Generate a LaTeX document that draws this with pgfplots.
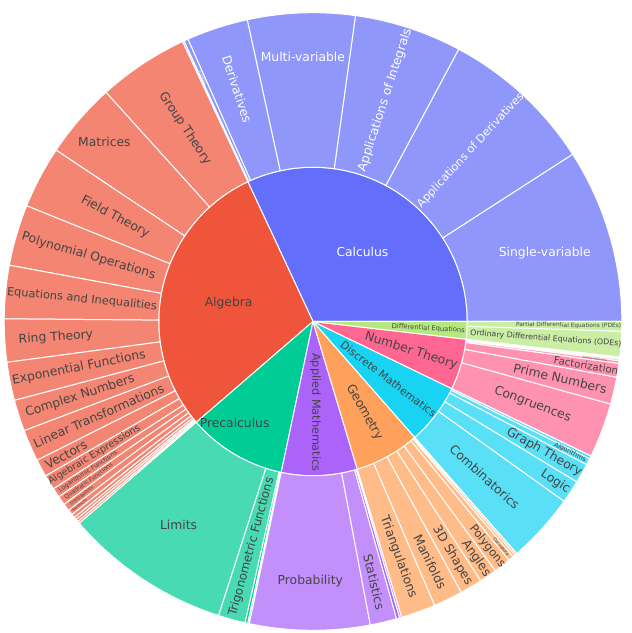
\documentclass[border=0pt]{standalone}
\usepackage{pgfplots}
\pgfplotsset{compat=1.18}
\usepackage{pgfplotstable}
\usepackage{fontspec}
\setmainfont{DejaVu Sans}

\definecolor{cCal}{HTML}{636EFA}
\definecolor{cAlg}{HTML}{EF553B}
\definecolor{cPre}{HTML}{00CC96}
\definecolor{cApp}{HTML}{AB63FA}
\definecolor{cGeo}{HTML}{FFA15A}
\definecolor{cDis}{HTML}{19D3F3}
\definecolor{cNum}{HTML}{FF6692}
\definecolor{cDif}{HTML}{B6E880}
\colorlet{lCal}{cCal!72!white}
\colorlet{lAlg}{cAlg!72!white}
\colorlet{lPre}{cPre!72!white}
\colorlet{lApp}{cApp!72!white}
\colorlet{lGeo}{cGeo!72!white}
\colorlet{lDis}{cDis!72!white}
\colorlet{lNum}{cNum!72!white}
\colorlet{lDif}{cDif!72!white}
\definecolor{txt}{HTML}{444444}

% inner ring: name, angular share (degrees), fill, text colour, font size, label angle, label radius, rotation
\pgfplotstableread[col sep=comma]{
nm,val,fc,tc,fs,la,lr,rot
Calculus,115,cCal,white,12.4,54.7,85.7,0
Algebra,105.8,cAlg,txt,12.4,168,86.4,0
Precalculus,37.3,cPre,txt,12.4,232.4,128.7,0
Applied Mathematics,28.6,cApp,txt,11.3,271.6,91,-90
Geometry,24.6,cGeo,txt,12.4,299.5,104.5,999
Discrete Mathematics,22.9,cDis,txt,10.8,322.7,95.3,999
Number Theory,19.2,cNum,txt,12.4,343.2,102.6,-17.5
Differential Equations,6.6,cDif,txt,6.8,356.5,115.7,999
}\innerring

% outer ring: name, angular share (degrees), fill, text colour, font size, label radius (0=auto), rotation (999=radial)
\pgfplotstableread[col sep=comma]{
nm,val,fc,tc,fs,lr,rot
Single-variable,32.8,lCal,white,12.4,242,0
Applications of Derivatives,29.05,lCal,white,11.4,233,999
Applications of Integrals,20.25,lCal,white,12.4,233,999
Multi-variable,20.2,lCal,white,12.4,265,0
Derivatives,11.6,lCal,white,12.4,245,999
Integrals,0.8,lCal,white,3.5,268,999
x,0.3,lCal,white,0,0,999
Group Theory,17.1,lAlg,txt,12.4,232,999
Matrices,14.2,lAlg,txt,12.4,276,0
Field Theory,11.7,lAlg,txt,12.4,224,999
Polynomial Operations,11.5,lAlg,txt,12.4,234,999
Equations and Inequalities,10.0,lAlg,txt,11.4,232.5,999
Ring Theory,8.1,lAlg,txt,12.4,258,999
Exponential Functions,7.2,lAlg,txt,12.4,239,999
Complex Numbers,5.9,lAlg,txt,12.4,245,999
Linear Transformations,6.0,lAlg,txt,12.4,234.5,999
Vectors,3.3,lAlg,txt,12.4,281,999
Algebraic Expressions,2.8,lAlg,txt,9.7,256.6,999
Logarithmic Functions,1.8,lAlg,txt,6.3,271,999
Quadratic Functions,1.7,lAlg,txt,5.8,276,999
Inequalities,1.4,lAlg,txt,4.8,290,999
Sequences,1.0,lAlg,txt,3.4,298,999
x,0.7,lAlg,txt,0,0,999
x,0.5,lAlg,txt,0,0,999
x,0.5,lAlg,txt,0,0,999
x,0.4,lAlg,txt,0,0,999
Limits,31.4,lPre,txt,12.4,244,0
Trigonometric Functions,5.1,lPre,txt,12,234,999
x,0.5,cPre,txt,0,0,999
x,0.3,lPre,txt,0,0,999
Probability,22.6,lApp,txt,12.4,260,0
Statistics,5.0,lApp,txt,12.4,268,999
x,0.6,cApp,txt,0,0,999
x,0.4,lApp,txt,0,0,999
Triangulations,6.5,lGeo,txt,12.4,251,999
Manifolds,5.5,lGeo,txt,12.4,268,999
3D Shapes,4.2,lGeo,txt,12.4,273,999
Angles,3.3,lGeo,txt,12.4,288,999
Polygons,3.2,lGeo,txt,11.5,285,999
Curvature,1.0,lGeo,txt,4.5,294,999
x,0.5,lGeo,txt,0,0,999
x,0.4,lGeo,txt,0,0,999
Combinatorics,13.1,lDis,txt,12.4,232,999
Logic,4.3,lDis,txt,12.4,291,999
Graph Theory,3.7,lDis,txt,12.4,266,999
Algorithms,1.2,lDis,txt,6.5,289,999
x,0.6,lDis,txt,0,0,999
Congruences,10.3,lNum,txt,12.4,235,999
Prime Numbers,5.1,lNum,txt,12.4,254,999
Factorization,2.6,lNum,txt,10.2,277,999
Modular Arithmetic,0.5,lNum,txt,2.6,285,999
x,0.3,lNum,txt,0,0,999
x,0.2,lNum,txt,0,0,999
x,0.2,lNum,txt,0,0,999
Ordinary Differential Equations (ODEs),4.8,lDif,txt,7.9,233.8,999
Partial Differential Equations (PDEs),1.8,lDif,txt,5.9,256,999
}\outerring

\def\rIn{154.5}
\def\rOut{309.3}

\newcommand\ringwedge[5]{% a1,a2,r1,r2,colour
  \pgfmathsetmacro\sbxa{#3*cos(#1)}%
  \pgfmathsetmacro\sbya{#3*sin(#1)}%
  \pgfmathsetmacro\sbxb{#4*cos(#2)}%
  \pgfmathsetmacro\sbyb{#4*sin(#2)}%
  \edef\sbtmp{\noexpand\fill[fill=#5,draw=white,line width=1bp,line join=round]
    (axis cs:\sbxa,\sbya) arc[start angle=#1,end angle=#2,radius=#3bp]
    -- (axis cs:\sbxb,\sbyb) arc[start angle=#2,end angle=#1,radius=#4bp] -- cycle;}%
  \sbtmp}
\newcommand\piewedge[4]{% a1,a2,r,colour
  \pgfmathsetmacro\sbxa{#3*cos(#1)}%
  \pgfmathsetmacro\sbya{#3*sin(#1)}%
  \edef\sbtmp{\noexpand\fill[fill=#4,draw=white,line width=1bp,line join=round]
    (axis cs:0,0) -- (axis cs:\sbxa,\sbya) arc[start angle=#1,end angle=#2,radius=#3bp] -- cycle;}%
  \sbtmp}
\newcommand\slicelabel[6]{% x,y,rot,size,colour,text
  \edef\sbtmp{\noexpand\node[rotate=#3,text=#5,inner sep=0pt,anchor=center,
    font=\noexpand\fontsize{#4}{#4}\noexpand\selectfont] at (axis cs:#1,#2) {#6};}%
  \sbtmp}

\begin{document}
\begin{tikzpicture}
\begin{axis}[hide axis, scale only axis, width=632bp, height=633bp,
  xmin=-313.5, xmax=318.5, ymin=-311, ymax=322, clip=false]
% ---- inner ring wedges
\pgfplotstablegetrowsof{\innerring}\pgfmathtruncatemacro\nin{\pgfplotsretval-1}
\def\sbacc{0}
\pgfplotsforeachungrouped \i in {0,...,\nin}{%
  \pgfplotstablegetelem{\i}{val}\of\innerring\let\sbval\pgfplotsretval
  \pgfplotstablegetelem{\i}{fc}\of\innerring\let\sbfc\pgfplotsretval
  \pgfmathsetmacro\sbaA{\sbacc}\pgfmathsetmacro\sbaB{\sbacc+\sbval}%
  \piewedge{\sbaA}{\sbaB}{\rIn}{\sbfc}%
  \let\sbacc\sbaB
}
% ---- outer ring wedges
\pgfplotstablegetrowsof{\outerring}\pgfmathtruncatemacro\nout{\pgfplotsretval-1}
\def\sbacc{0}
\pgfplotsforeachungrouped \i in {0,...,\nout}{%
  \pgfplotstablegetelem{\i}{val}\of\outerring\let\sbval\pgfplotsretval
  \pgfplotstablegetelem{\i}{fc}\of\outerring\let\sbfc\pgfplotsretval
  \pgfmathsetmacro\sbaA{\sbacc}\pgfmathsetmacro\sbaB{\sbacc+\sbval}%
  \ringwedge{\sbaA}{\sbaB}{\rIn}{\rOut}{\sbfc}%
  \let\sbacc\sbaB
}
% ---- inner labels
\pgfplotsforeachungrouped \i in {0,...,\nin}{%
  \pgfplotstablegetelem{\i}{nm}\of\innerring\let\sbnm\pgfplotsretval
  \pgfplotstablegetelem{\i}{tc}\of\innerring\let\sbtc\pgfplotsretval
  \pgfplotstablegetelem{\i}{fs}\of\innerring\let\sbfs\pgfplotsretval
  \pgfplotstablegetelem{\i}{la}\of\innerring\let\sbla\pgfplotsretval
  \pgfplotstablegetelem{\i}{lr}\of\innerring\let\sblr\pgfplotsretval
  \pgfplotstablegetelem{\i}{rot}\of\innerring\let\sbrot\pgfplotsretval
  \ifdim\sbrot pt=999pt
    \pgfmathsetmacro\sbrr{cos(\sbla)>=0 ? \sbla : \sbla-180}%
  \else\let\sbrr\sbrot\fi
  \pgfmathsetmacro\sblx{\sblr*cos(\sbla)}\pgfmathsetmacro\sbly{\sblr*sin(\sbla)}%
  \slicelabel{\sblx}{\sbly}{\sbrr}{\sbfs}{\sbtc}{\sbnm}%
}
% ---- outer labels
\def\sbacc{0}
\pgfplotsforeachungrouped \i in {0,...,\nout}{%
  \pgfplotstablegetelem{\i}{val}\of\outerring\let\sbval\pgfplotsretval
  \pgfplotstablegetelem{\i}{nm}\of\outerring\let\sbnm\pgfplotsretval
  \pgfplotstablegetelem{\i}{tc}\of\outerring\let\sbtc\pgfplotsretval
  \pgfplotstablegetelem{\i}{fs}\of\outerring\let\sbfs\pgfplotsretval
  \pgfplotstablegetelem{\i}{lr}\of\outerring\let\sblr\pgfplotsretval
  \pgfplotstablegetelem{\i}{rot}\of\outerring\let\sbrot\pgfplotsretval
  \pgfmathsetmacro\sbam{\sbacc+\sbval/2}%
  \pgfmathsetmacro\sbaB{\sbacc+\sbval}\let\sbacc\sbaB
  \ifdim\sbfs pt>0pt
    \ifdim\sblr pt=0pt \def\sblr{232}\fi
    \ifdim\sbrot pt=999pt
      \pgfmathsetmacro\sbrr{cos(\sbam)>=0 ? \sbam : \sbam-180}%
    \else\let\sbrr\sbrot\fi
    \pgfmathsetmacro\sblx{\sblr*cos(\sbam)}\pgfmathsetmacro\sbly{\sblr*sin(\sbam)}%
    \slicelabel{\sblx}{\sbly}{\sbrr}{\sbfs}{\sbtc}{\sbnm}%
  \fi
}
\end{axis}
\path (current axis.south west) rectangle (current axis.north east);
\end{tikzpicture}
\end{document}
